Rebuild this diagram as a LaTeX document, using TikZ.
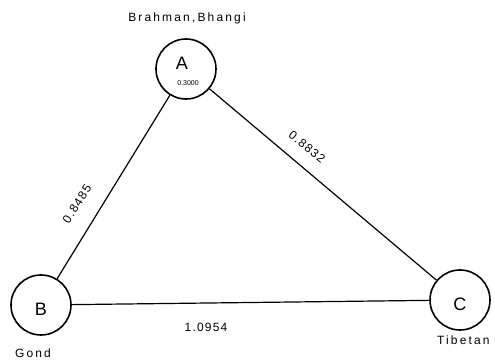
\documentclass[tikz,border=0pt]{standalone}
\usepackage{fontspec}
\setmainfont{Liberation Sans}
\newfontfamily\spacedfont[LetterSpace=18]{Liberation Sans}
\newfontfamily\numfont[LetterSpace=10]{Liberation Sans}
\begin{document}
\begin{tikzpicture}[x=0.5pt,y=-0.5pt,
  pop/.style={circle,draw,line width=0.8pt,minimum size=30pt,inner sep=0pt,font=\fontsize{9}{9}\selectfont},
  grp/.style={font=\spacedfont\fontsize{6}{6}\selectfont},
  dist/.style={font=\numfont\fontsize{6}{6}\selectfont},
  edge/.style={line width=0.6pt}]
\useasboundingbox (0,0) rectangle (495,364);
\node[pop] (A) at (186,69) {};
\node[pop] (B) at (41,305) {};
\node[pop] (C) at (460,300) {};
\node (Alab) at (182,63) {\fontsize{9}{9}\selectfont A};
\node[inner sep=0pt,font=\fontsize{3.5}{3.5}\selectfont] (Aval) at (188,83) {0.3000};
\node (Blab) at (41,309) {\fontsize{9}{9}\selectfont B};
\node (Clab) at (460,304) {\fontsize{9}{9}\selectfont C};
\node[grp] (An) at (187,18) {Brahman,Bhangi};
\node[grp] (Bn) at (33,353) {Gond};
\node[grp,anchor=west] (Cn) at (430,340) {Tibetan};
\draw[edge] (A) -- (B);
\draw[edge] (A) -- (C);
\draw[edge] (B) -- (C);
\node[dist,rotate=57] (dab) at (77,204) {0.8485};
\node[dist,rotate=-39] (dac) at (307,147) {0.8832};
\node[dist] (dbc) at (206,327) {1.0954};
\end{tikzpicture}
\end{document}
